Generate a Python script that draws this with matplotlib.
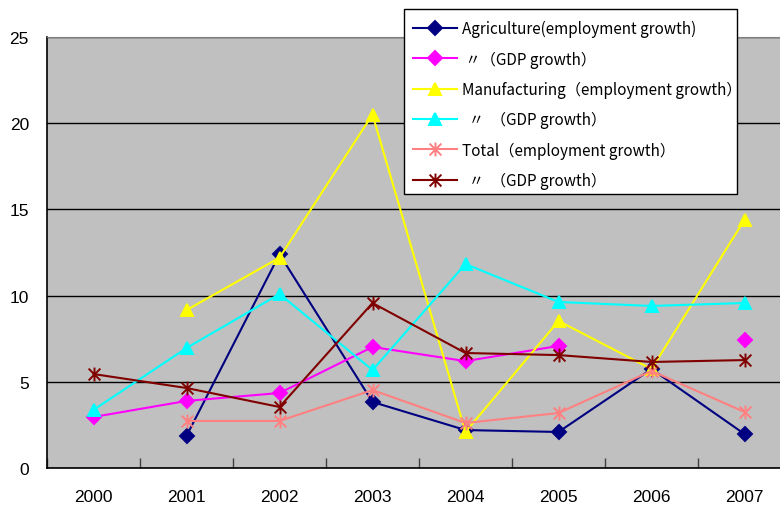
import numpy as np
import matplotlib
matplotlib.use("Agg")
import matplotlib.pyplot as plt
from matplotlib.path import Path
from matplotlib.patches import Rectangle
from matplotlib.font_manager import FontProperties

years = ["2000", "2001", "2002", "2003", "2004", "2005", "2006", "2007"]
nan = np.nan

agri_emp = [nan, 1.86, 12.4, 3.83, 2.2, 2.09, 5.74, 1.97]
agri_gdp = [2.96, 3.89, 4.35, 7.02, 6.2, 7.08, nan, 7.43]
manu_emp = [nan, 9.16, 12.2, 20.5, 2.09, 8.53, 5.74, 14.4]
manu_gdp = [3.37, 6.96, 10.09, 5.68, 11.83, 9.63, 9.4, 9.57]
total_emp = [nan, 2.73, 2.73, 4.52, 2.61, 3.19, 5.63, 3.25]
total_gdp = [5.45, 4.64, 3.54, 9.57, 6.67, 6.55, 6.15, 6.26]

labels = [
    "Agriculture(employment growth)",
    " 〃（GDP growth）",
    "Manufacturing（employment growth）",
    "  〃  （GDP growth）",
    "Total（employment growth）",
    "  〃  （GDP growth）",
]

# Excel-style asterisk: an X with a vertical stroke through it
M, L = Path.MOVETO, Path.LINETO
asterisk = Path(
    [(0, -1), (0, 1), (-0.85, -0.85), (0.85, 0.85), (-0.85, 0.85), (0.85, -0.85)],
    [M, L, M, L, M, L],
)

series = [
    (agri_emp, "#000080", "D", 7),
    (agri_gdp, "#FF00FF", "D", 7),
    (manu_emp, "#FFFF00", "^", 9),
    (manu_gdp, "#00FFFF", "^", 9),
    (total_emp, "#FF8080", asterisk, 10),
    (total_gdp, "#800000", asterisk, 10),
]

plt.rcParams["font.family"] = ["Liberation Sans", "DejaVu Sans"]

W, H = 780, 506
fig = plt.figure(figsize=(W / 100, H / 100), dpi=100)
ax = fig.add_axes([47 / W, 37 / H, 744 / W, 431 / H])
ax.set_facecolor("#C0C0C0")

x = np.arange(len(years))
for (vals, color, marker, ms), lab in zip(series, labels):
    ax.plot(x, vals, color=color, lw=1.5, marker=marker, ms=ms,
            mfc=color, mec=color, mew=1.4, label=lab, clip_on=False)

ax.set_xlim(-0.5, len(years) - 0.5)
ax.set_ylim(0, 25)
ax.set_yticks([0, 5, 10, 15, 20, 25])
ax.yaxis.grid(True, color="#000000", lw=1)
ax.set_axisbelow(True)

ax.set_xticks(x)
ax.set_xticklabels(years)
ax.set_xticks(np.arange(-0.5, len(years), 1.0), minor=True)
ax.tick_params(axis="x", which="major", length=0, pad=15, labelsize=12.5)
ax.tick_params(axis="x", which="minor", direction="in", length=7, width=1, color="#404040")
ax.tick_params(axis="y", length=0, pad=13, labelsize=12.5)

for side in ["left", "bottom"]:
    ax.spines[side].set_color("#000000")
    ax.spines[side].set_linewidth(1.2)
ax.spines["top"].set_color("#808080")
ax.spines["right"].set_visible(False)

# legend box drawn separately so its edges sit tight around the entries
fig.patches.append(Rectangle((404 / W, 1 - 195 / H), 333 / W, 185 / H,
                             transform=fig.transFigure, facecolor="white",
                             edgecolor="black", linewidth=1.0, zorder=4))

fig.legend(
    loc="upper left",
    bbox_to_anchor=(413 / W, 1 - 21 / H),
    bbox_transform=fig.transFigure,
    prop=FontProperties(family=["Noto Sans CJK JP", "DejaVu Sans"], size=11),
    frameon=False,
    borderpad=0,
    labelspacing=0.87,
    handlelength=2.88,
    handletextpad=0.33,
    borderaxespad=0,
).set_zorder(5)

fig.savefig("out.png", dpi=100, facecolor="white")
